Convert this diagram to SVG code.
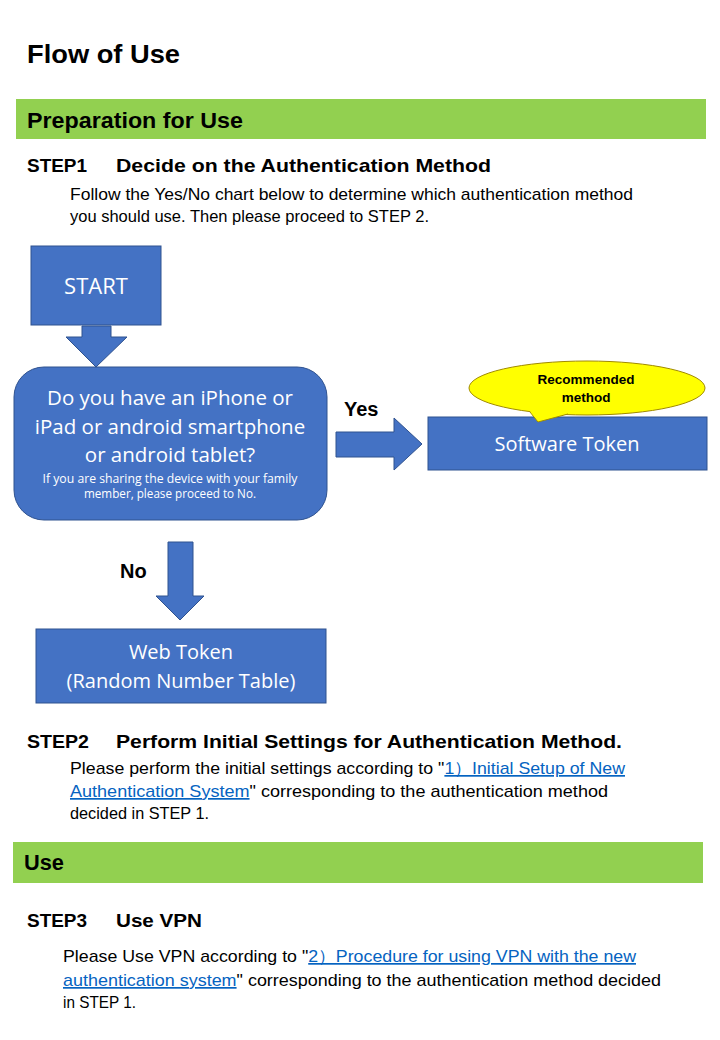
<svg xmlns="http://www.w3.org/2000/svg" width="720" height="1040" viewBox="0 0 720 1040">
<style>
.h{font-family:"Liberation Sans",Arial,sans-serif;font-weight:bold;fill:#000}
.b{font-family:"Liberation Sans",Arial,sans-serif;font-size:17px;fill:#000}
.lk{fill:#0563C1;text-decoration:underline}
.box{fill:#4472C4;stroke:#2F528F;stroke-width:1}
.arr{fill:#4472C4;stroke:#2F528F;stroke-width:1}
.bt{font-family:"Open Sans","Noto Sans",sans-serif;fill:#fff;text-anchor:middle}
.band{fill:#92D050}
</style>
<rect width="720" height="1040" fill="#fff"/>
<text class="h" x="27" y="63" font-size="26" textLength="153" lengthAdjust="spacingAndGlyphs">Flow of Use</text>
<rect class="band" x="16" y="99" width="690" height="40"/>
<text class="h" x="27" y="128" font-size="22" textLength="216" lengthAdjust="spacingAndGlyphs">Preparation for Use</text>
<text class="h" x="27" y="172" font-size="19" textLength="60" lengthAdjust="spacingAndGlyphs">STEP1</text>
<text class="h" x="116" y="172" font-size="19" textLength="375" lengthAdjust="spacingAndGlyphs">Decide on the Authentication Method</text>
<text class="b" x="70" y="200" textLength="563" lengthAdjust="spacingAndGlyphs">Follow the Yes/No chart below to determine which authentication method</text>
<text class="b" x="70" y="222" textLength="359" lengthAdjust="spacingAndGlyphs">you should use. Then please proceed to STEP 2.</text>

<g id="connectors">
<polygon class="arr" points="82,326 111,326 111,337 127,337 96,367 66,337 82,337"/>
<polygon class="arr" points="336,432 394,432 394,418 422,444 394,470 394,457 336,457"/>
<polygon class="arr" points="168,542 193,542 193,596 204,596 180,620 156,596 168,596"/>
<text class="h" x="344" y="416" font-size="20">Yes</text>
<text class="h" x="120" y="578" font-size="20">No</text>
</g>

<g id="start">
<rect class="box" x="31" y="246" width="130" height="79"/>
<text class="bt" x="96" y="294" font-size="22">START</text>
</g>

<g id="question">
<rect class="box" x="14" y="367" width="313" height="153" rx="30" ry="30"/>
<text class="bt" x="170" y="405" font-size="20.5">Do you have an iPhone or</text>
<text class="bt" x="170" y="434" font-size="20.5">iPad or android smartphone</text>
<text class="bt" x="170" y="462" font-size="20.5">or android tablet?</text>
<text class="bt" x="170" y="483" font-size="12" font-family="Liberation Sans" textLength="255" lengthAdjust="spacingAndGlyphs">If you are sharing the device with your family</text>
<text class="bt" x="170" y="498" font-size="12" font-family="Liberation Sans" textLength="172" lengthAdjust="spacingAndGlyphs">member, please proceed to No.</text>
</g>

<g id="software">
<rect class="box" x="428" y="417" width="279" height="53"/>
<text class="bt" x="567" y="451" font-size="20">Software Token</text>
</g>

<g id="callout">
<ellipse cx="587" cy="388" rx="118" ry="27" fill="#FFFF00" stroke="#A08A00" stroke-width="1"/>
<polyline points="530,412 538,422 568,414" fill="#FFFF00" stroke="#A08A00" stroke-width="1"/>
<polygon points="529,410 538,420.5 569,412 568,408" fill="#FFFF00"/>
<text class="h" x="586" y="384" font-size="13.5" text-anchor="middle">Recommended</text>
<text class="h" x="586" y="402" font-size="13.5" text-anchor="middle">method</text>
</g>

<g id="web">
<rect class="box" x="36" y="629" width="290" height="74"/>
<text class="bt" x="181" y="659" font-size="20">Web Token</text>
<text class="bt" x="181" y="688" font-size="20">(Random Number Table)</text>
</g>

<text class="h" x="27" y="748" font-size="19" textLength="62" lengthAdjust="spacingAndGlyphs">STEP2</text>
<text class="h" x="116" y="748" font-size="19" textLength="506" lengthAdjust="spacingAndGlyphs">Perform Initial Settings for Authentication Method.</text>
<text class="b" x="70" y="774" textLength="555" lengthAdjust="spacingAndGlyphs">Please perform the initial settings according to "<tspan class="lk">1）Initial Setup of New</tspan></text>
<text class="b" x="70" y="797" textLength="538" lengthAdjust="spacingAndGlyphs"><tspan class="lk">Authentication System</tspan>" corresponding to the authentication method</text>
<text class="b" x="70" y="819" textLength="139" lengthAdjust="spacingAndGlyphs">decided in STEP 1.</text>

<rect class="band" x="13" y="842" width="690" height="41"/>
<text class="h" x="24" y="870" font-size="22" textLength="40" lengthAdjust="spacingAndGlyphs">Use</text>
<text class="h" x="27" y="927" font-size="19" textLength="60" lengthAdjust="spacingAndGlyphs">STEP3</text>
<text class="h" x="116" y="927" font-size="19" textLength="86" lengthAdjust="spacingAndGlyphs">Use VPN</text>
<text class="b" x="63" y="962" textLength="573" lengthAdjust="spacingAndGlyphs">Please Use VPN according to "<tspan class="lk">2）Procedure for using VPN with the new</tspan></text>
<text class="b" x="63" y="986" textLength="598" lengthAdjust="spacingAndGlyphs"><tspan class="lk">authentication system</tspan>" corresponding to the authentication method decided</text>
<text class="b" x="63" y="1008" textLength="73" lengthAdjust="spacingAndGlyphs">in STEP 1.</text>
</svg>
